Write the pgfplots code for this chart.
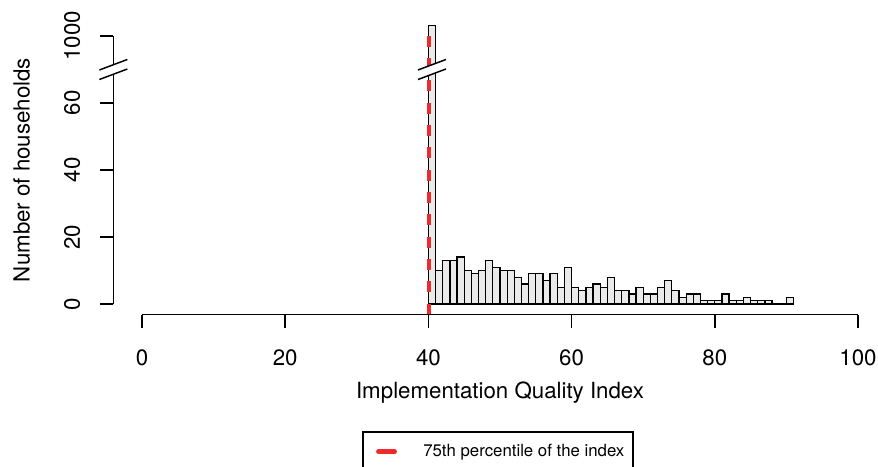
\documentclass[border=0pt]{standalone}
\usepackage{pgfplots}
\pgfplotsset{compat=1.18}
\usepackage{pgfplotstable}
\usepackage{fontspec}
\setmainfont{TeX Gyre Heros}
\definecolor{barfill}{RGB}{234,234,234}
\definecolor{pctred}{RGB}{240,42,42}
\newcommand\ticksize{\fontsize{16.7}{20}\selectfont}
\newcommand\legsize{\fontsize{12.6}{15}\selectfont}

% histogram counts (bin left edge, count); the 40-41 bin (about 1000 households)
% is drawn at the broken-axis position 83.2 (the "1000" tick sits at 80)
\pgfplotstableread{
x y
40 83.2
41 10
42 13
43 13
44 14
45 10
46 9
47 10
48 13
49 11
50 10
51 10
52 8
53 6
54 9
55 9
56 7
57 9
58 5
59 11
60 5
61 4
62 5
63 6
64 5
65 8
66 4
67 4
68 3
69 5
70 3
71 3
72 5
73 7
74 4
75 2
76 3
77 3
78 1
79 1
80 1
81 3
82 1
83 1
84 2
85 1
86 1
87 1
88 0
89 0
90 2
91 0
}\histdata

\begin{document}
\begin{tikzpicture}
\useasboundingbox (-85.02pt,-114.21pt) rectangle (573.48pt,236.04pt);
\begin{axis}[
  at={(0,0)}, anchor=south west, scale only axis,
  width=573.46pt, height=217.08pt,
  xmin=-4, xmax=102.79, ymin=-3.2, ymax=83.2,
  hide axis, clip=false]
\addplot[ybar interval, draw=black, line width=0.95pt, fill=barfill] table[x=x,y=y]{\histdata};
\addplot[pctred, line width=3pt, dash pattern=on 8.25pt off 8.5pt] coordinates {(40.07,-3.2) (40.07,83.2)};

% x axis
\draw[line width=1.1pt] (axis cs:0,-3.2) -- (axis cs:100,-3.2);
\pgfplotsinvokeforeach{0,20,40,60,80,100}{
  \draw[line width=1.1pt] (axis cs:#1,-3.2) -- (axis cs:#1,-7.08);
  \node[anchor=base,font=\ticksize,inner sep=0pt] at (axis cs:#1,-18.21) {#1};
}
\node[anchor=base,font=\ticksize,inner sep=0pt] at (axis cs:50,-28.06) {Implementation Quality Index};

% y axis
\draw[line width=1.1pt] (axis cs:-4,0) -- (axis cs:-4,80);
\pgfplotsinvokeforeach{0,20,40,60,80}{
  \draw[line width=1.1pt] (axis cs:-4,#1) -- (axis cs:-5.885,#1);
}
\node[rotate=90,anchor=base,font=\ticksize,inner sep=0pt] at (axis cs:-8.66,0) {0};
\node[rotate=90,anchor=base,font=\ticksize,inner sep=0pt] at (axis cs:-8.66,20) {20};
\node[rotate=90,anchor=base,font=\ticksize,inner sep=0pt] at (axis cs:-8.66,40) {40};
\node[rotate=90,anchor=base,font=\ticksize,inner sep=0pt] at (axis cs:-8.66,60) {60};
\node[rotate=90,anchor=base,font=\ticksize,inner sep=0pt] at (axis cs:-8.66,80) {1000};
\node[rotate=90,anchor=base,font=\ticksize,inner sep=0pt] at (axis cs:-15.71,40) {Number of households};

% axis break on y axis
\fill[white] (axis cs:-5.955,69.85) -- (axis cs:-2.045,72.99) -- (axis cs:-2.045,70.15) -- (axis cs:-5.955,67.01) -- cycle;
\draw[line width=1.1pt] (axis cs:-5.955,69.85) -- (axis cs:-2.045,72.99);
\draw[line width=1.1pt] (axis cs:-5.955,67.01) -- (axis cs:-2.045,70.15);
% axis break on the tall bar
\fill[white] (axis cs:38.545,69.85) -- (axis cs:42.455,72.99) -- (axis cs:42.455,70.15) -- (axis cs:38.545,67.01) -- cycle;
\draw[line width=1.1pt] (axis cs:38.545,69.85) -- (axis cs:42.455,72.99);
\draw[line width=1.1pt] (axis cs:38.545,67.01) -- (axis cs:42.455,70.15);

% legend
\draw[line width=0.9pt] (axis cs:30.87,-48.66) -- (axis cs:30.87,-38.21) -- (axis cs:68.58,-38.21) -- (axis cs:68.58,-48.66);
\draw[pctred, line width=3.6pt, line cap=round] (axis cs:33.03,-44.09) -- (axis cs:35.27,-44.09);
\node[anchor=base west,font=\legsize,inner sep=0pt] at (axis cs:39.25,-45.67) {75th percentile of the index};
\end{axis}
\end{tikzpicture}
\end{document}
